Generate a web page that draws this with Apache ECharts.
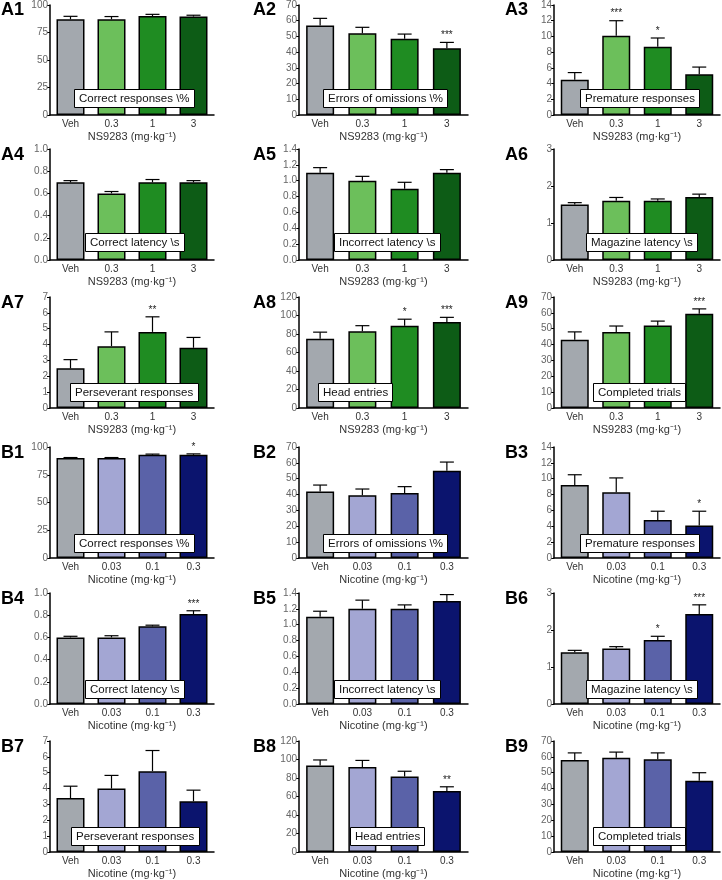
<!DOCTYPE html>
<html><head><meta charset="utf-8">
<script src="https://cdn.jsdelivr.net/npm/echarts@6/dist/echarts.min.js"></script>
<style>html,body{margin:0;padding:0;background:#fff}#c{width:722px;height:880px}</style>
</head><body><div id="c"></div>
<script>
// ---------- data ----------
const catsA = ['Veh', '0.3', '1', '3'];
const catsB = ['Veh', '0.03', '0.1', '0.3'];
const axisNameA = 'NS9283 (mg·kg⁻¹)';
const axisNameB = 'Nicotine (mg·kg⁻¹)';
const measures = ['Correct responses \\%', 'Errors of omissions \\%', 'Premature responses',
  'Correct latency \\s', 'Incorrect latency \\s', 'Magazine latency \\s',
  'Perseverant responses', 'Head entries', 'Completed trials'];
const yMax  = [100, 70, 14, 1.0, 1.4, 3, 7, 120, 70];
const yStep = [25, 10, 2, 0.2, 0.2, 1, 1, 20, 10];
const yDecimals = [0, 0, 0, 1, 1, 0, 0, 0, 0];

const meanA1 = [87, 87, 90, 89.5];     const semA1 = [2.7, 2.5, 1.5, 1.2];   const starsA1 = ['', '', '', ''];
const meanA2 = [57, 52, 48.5, 42.5];   const semA2 = [4.5, 3.8, 3, 3.7];     const starsA2 = ['', '', '', '***'];
const meanA3 = [4.5, 10.1, 8.7, 5.2];  const semA3 = [0.9, 1.9, 1.1, 0.9];   const starsA3 = ['', '***', '*', ''];
const meanA4 = [0.7, 0.6, 0.7, 0.7];   const semA4 = [0.015, 0.017, 0.025, 0.015]; const starsA4 = ['', '', '', ''];
const meanA5 = [1.1, 1.0, 0.9, 1.1];   const semA5 = [0.065, 0.055, 0.08, 0.04];   const starsA5 = ['', '', '', ''];
const meanA6 = [1.5, 1.6, 1.6, 1.7];   const semA6 = [0.05, 0.09, 0.05, 0.08];     const starsA6 = ['', '', '', ''];
const meanA7 = [2.5, 3.9, 4.8, 3.8];   const semA7 = [0.55, 0.9, 0.95, 0.65];      const starsA7 = ['', '', '**', ''];
const meanA8 = [75, 83, 89, 93];       const semA8 = [7, 6, 7, 5];                 const starsA8 = ['', '', '*', '***'];
const meanA9 = [43, 48, 52, 59.5];     const semA9 = [5, 3.7, 2.8, 3];             const starsA9 = ['', '', '', '***'];

const meanB1 = [90, 90, 93, 93];       const semB1 = [0.5, 0.5, 0.6, 0.8];         const starsB1 = ['', '', '', '*'];
const meanB2 = [42, 39.5, 41, 55];     const semB2 = [4, 4, 4, 5.5];               const starsB2 = ['', '', '', ''];
const meanB3 = [9.2, 8.3, 4.8, 4.1];   const semB3 = [1.3, 1.8, 1.1, 1.8];         const starsB3 = ['', '', '', '*'];
const meanB4 = [0.6, 0.6, 0.7, 0.81];  const semB4 = [0.01, 0.015, 0.01, 0.03];    const starsB4 = ['', '', '', '***'];
const meanB5 = [1.1, 1.2, 1.2, 1.3];   const semB5 = [0.07, 0.11, 0.05, 0.08];     const starsB5 = ['', '', '', ''];
const meanB6 = [1.4, 1.5, 1.73, 2.43]; const semB6 = [0.05, 0.05, 0.1, 0.25];      const starsB6 = ['', '', '*', '***'];
const meanB7 = [3.4, 4.0, 5.1, 3.2];   const semB7 = [0.75, 0.83, 1.3, 0.7];       const starsB7 = ['', '', '', ''];
const meanB8 = [93.5, 92, 81.5, 66];   const semB8 = [6, 7, 5.8, 4.5];             const starsB8 = ['', '', '', '**'];
const meanB9 = [58, 59.5, 58.5, 45];   const semB9 = [4.5, 3.5, 4, 5];             const starsB9 = ['', '', '', ''];

const panels = [
  ['A1', meanA1, semA1, starsA1], ['A2', meanA2, semA2, starsA2], ['A3', meanA3, semA3, starsA3],
  ['A4', meanA4, semA4, starsA4], ['A5', meanA5, semA5, starsA5], ['A6', meanA6, semA6, starsA6],
  ['A7', meanA7, semA7, starsA7], ['A8', meanA8, semA8, starsA8], ['A9', meanA9, semA9, starsA9],
  ['B1', meanB1, semB1, starsB1], ['B2', meanB2, semB2, starsB2], ['B3', meanB3, semB3, starsB3],
  ['B4', meanB4, semB4, starsB4], ['B5', meanB5, semB5, starsB5], ['B6', meanB6, semB6, starsB6],
  ['B7', meanB7, semB7, starsB7], ['B8', meanB8, semB8, starsB8], ['B9', meanB9, semB9, starsB9]
];

// ---------- layout & style ----------
const colLeft = [50, 299, 554];
const colWidth = [164, 169, 166];
const labelLeft = [1, 253, 505];
const rowTop = [4, 149, 297, 447, 593, 741];
const plotH = 111;
// measure-box positions (left, top) per panel
const boxPos = [
  [74, 89], [323, 89], [580, 89],
  [85, 233], [334, 233], [586, 233],
  [70, 383], [318, 383], [593, 383],
  [74, 534], [323, 534], [580, 534],
  [85, 680], [334, 680], [586, 680],
  [71, 827], [350, 827], [593, 827]
];
const colorsA = ['#a3a8ae', '#6cbf5b', '#1f8c22', '#0d5c16'];
const colorsB = ['#a3a8ae', '#a3a6d3', '#5a62a8', '#0b146e'];
const FONT = 'Liberation Sans, Arial, sans-serif';

const grid = [], xAxis = [], yAxis = [], series = [], title = [];

panels.forEach((p, i) => {
  const [id, mean, sem, stars] = p;
  const isA = i < 9;
  const m = i % 9;
  const col = i % 3;
  const row = Math.floor(i / 3);
  const cats = isA ? catsA : catsB;
  const colors = isA ? colorsA : colorsB;
  grid.push({ left: colLeft[col], top: rowTop[row], width: colWidth[col], height: plotH });
  xAxis.push({
    type: 'category', gridIndex: i, data: cats,
    axisLine: { lineStyle: { color: '#000', width: 1.5 } },
    axisTick: { show: false },
    axisLabel: { fontSize: 10, color: '#333', margin: 4, fontFamily: FONT },
    name: isA ? axisNameA : axisNameB, nameLocation: 'middle', nameGap: 16,
    nameTextStyle: { fontSize: 11, color: '#333', fontFamily: FONT }
  });
  yAxis.push({
    type: 'value', gridIndex: i, min: 0, max: yMax[m], interval: yStep[m],
    axisLine: { show: true, lineStyle: { color: '#000', width: 1.5 } },
    axisTick: { show: true, length: 3, lineStyle: { color: '#000' } },
    splitLine: { show: false },
    axisLabel: { fontSize: 10, color: '#666', margin: 2, fontFamily: FONT,
      formatter: v => v.toFixed(yDecimals[m]) }
  });
  series.push({
    type: 'bar', xAxisIndex: i, yAxisIndex: i, barWidth: 28,
    data: mean.map((v, k) => ({ value: v, itemStyle: { color: colors[k] } })),
    itemStyle: { borderColor: '#000', borderWidth: 1.5 },
    emphasis: { disabled: true }, animation: false, z: 2
  });
  series.push({
    type: 'custom', xAxisIndex: i, yAxisIndex: i, z: 5, animation: false,
    data: mean.map((v, k) => [k, v, sem[k]]),
    renderItem: (params, api) => {
      const x = api.value(0), v = api.value(1), e = api.value(2);
      const a = api.coord([x, v]);
      const b = api.coord([x, v + e]);
      const cap = 7;
      const children = [
        { type: 'line', shape: { x1: a[0], y1: a[1], x2: b[0], y2: b[1] }, style: { stroke: '#000', lineWidth: 1.2 } },
        { type: 'line', shape: { x1: b[0] - cap, y1: b[1], x2: b[0] + cap, y2: b[1] }, style: { stroke: '#000', lineWidth: 1.2 } }
      ];
      const s = stars[params.dataIndex];
      if (s) children.push({ type: 'text', x: b[0], y: b[1] - 2,
        style: { text: s, fill: '#222', fontSize: 10, fontFamily: FONT, align: 'center', verticalAlign: 'bottom' } });
      return { type: 'group', children };
    }
  });
  title.push({ text: id, left: labelLeft[col], top: rowTop[row] - 3, padding: 0,
    textStyle: { fontSize: 18, fontWeight: 'bold', color: '#000', fontFamily: FONT } });
  title.push({ text: measures[m], left: boxPos[i][0], top: boxPos[i][1], padding: [4, 5, 3, 5],
    backgroundColor: '#fff', borderColor: '#000', borderWidth: 1,
    textStyle: { fontSize: 11.5, fontWeight: 'normal', color: '#111', fontFamily: FONT } });
});

const chart = echarts.init(document.getElementById('c'), null, { renderer: 'canvas' });
chart.setOption({ animation: false, backgroundColor: '#fff', title, grid, xAxis, yAxis, series });
</script>
</body></html>
